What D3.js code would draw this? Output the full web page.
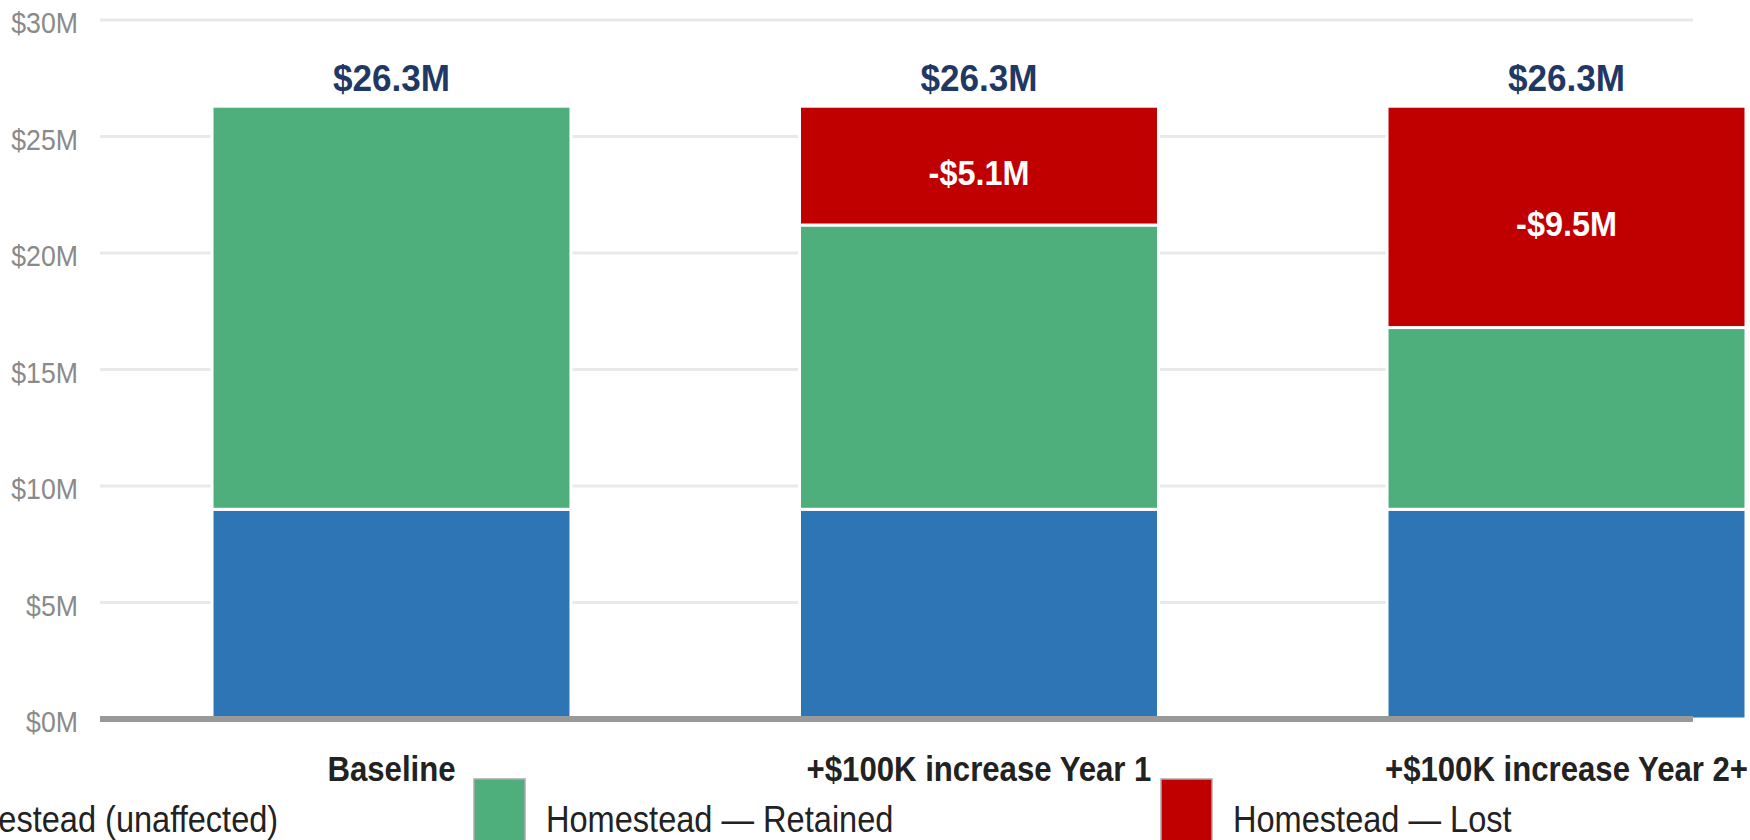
<!DOCTYPE html>
<html>
<head>
<meta charset="utf-8">
<script src="https://cdn.jsdelivr.net/npm/d3@7"></script>
<style>
  html, body { margin: 0; padding: 0; background: #fff; overflow: hidden; }
  svg { display: block; font-family: "Liberation Sans", Arial, sans-serif; }
</style>
</head>
<body>
<svg id="chart" width="1750" height="840"></svg>
<script>
// ---- data ----
const categories = ["Baseline", "+$100K increase Year 1", "+$100K increase Year 2+"];
const nonHomestead = [9.0, 9.0, 9.0];
const retained = [17.3, 12.2, 7.8];
const lost = [0, 5.1, 9.5];
const seriesKeys = ["nonHomestead", "retained", "lost"];
const seriesNames = ["Non-Homestead (unaffected)", "Homestead \u2014 Retained", "Homestead \u2014 Lost"];
const seriesColors = ["#2E75B6", "#4EAF7D", "#C00000"];
const yTicks = [0, 5, 10, 15, 20, 25, 30];

const rows = categories.map((c, i) => ({
  category: c, nonHomestead: nonHomestead[i], retained: retained[i], lost: lost[i]
}));

const svg = d3.select("#chart");

const x = d3.scaleBand().domain(categories).range([212, 1746]).paddingInner(0.389).paddingOuter(0);
const y = d3.scaleLinear().domain([0, 30]).range([719, 20]);
const gridX0 = 100, gridX1 = 1693;

// gridlines
svg.append("g").selectAll("line").data(yTicks.filter(t => t > 0)).join("line")
  .attr("x1", gridX0).attr("x2", gridX1)
  .attr("y1", d => y(d)).attr("y2", d => y(d))
  .attr("stroke", "#e9e9e9").attr("stroke-width", 3);

// y tick labels
svg.append("g").selectAll("text").data(yTicks).join("text")
  .attr("transform", d => `translate(78,${y(d) + 13}) scale(0.92,1)`)
  .attr("text-anchor", "end")
  .attr("font-size", 29).attr("fill", "#8a8a8a")
  .text(d => `$${d}M`);

// stacked bars
const stacked = d3.stack().keys(seriesKeys)(rows);
const color = d3.scaleOrdinal().domain(seriesKeys).range(seriesColors);

svg.append("g").selectAll("g").data(stacked).join("g")
  .attr("fill", d => color(d.key))
  .selectAll("rect").data(d => d.filter(p => p[1] - p[0] > 0)).join("rect")
  .attr("x", d => x(d.data.category))
  .attr("width", x.bandwidth())
  .attr("y", d => y(d[1]))
  .attr("height", d => y(d[0]) - y(d[1]))
  .attr("stroke", "#fff").attr("stroke-width", 3);

// axis line
svg.append("line")
  .attr("x1", gridX0).attr("x2", gridX1)
  .attr("y1", y(0)).attr("y2", y(0))
  .attr("stroke", "#999").attr("stroke-width", 6);

// total labels
svg.append("g").selectAll("text").data(rows).join("text")
  .attr("transform", d => {
    const t = d.nonHomestead + d.retained + d.lost;
    return `translate(${x(d.category) + x.bandwidth() / 2},${y(t) - 15}) scale(0.95,1)`;
  })
  .attr("text-anchor", "middle")
  .attr("font-size", 37).attr("font-weight", "bold").attr("fill", "#1F3864")
  .text(d => `$${(d.nonHomestead + d.retained + d.lost).toFixed(1)}M`);

// lost labels
const lostLayer = stacked[2];
svg.append("g").selectAll("text").data(lostLayer.filter(p => p[1] - p[0] > 0)).join("text")
  .attr("transform", d => `translate(${x(d.data.category) + x.bandwidth() / 2},${(y(d[0]) + y(d[1])) / 2 + 19}) scale(0.9,1)`)
  .attr("text-anchor", "middle")
  .attr("font-size", 36).attr("font-weight", "bold").attr("fill", "#fff")
  .text(d => `-$${(d[1] - d[0]).toFixed(1)}M`);

// x category labels
svg.append("g").selectAll("text").data(categories).join("text")
  .attr("transform", d => `translate(${x(d) + x.bandwidth() / 2},781) scale(0.89,1)`)
  .attr("text-anchor", "middle")
  .attr("font-size", 35).attr("font-weight", "bold").attr("fill", "#222")
  .text(d => d);

// legend
const legendX0 = -213, legendStep = 687;
const leg = svg.append("g").selectAll("g").data(seriesKeys).join("g")
  .attr("transform", (d, i) => `translate(${legendX0 + i * legendStep},779)`);
leg.append("rect").attr("width", 51).attr("height", 70)
  .attr("fill", d => color(d)).attr("stroke", "#aaa").attr("stroke-width", 1.5);
leg.append("text")
  .attr("transform", `translate(72,53) scale(0.88,1)`)
  .attr("font-size", 37).attr("fill", "#222")
  .text((d, i) => seriesNames[i]);
</script>
</body>
</html>
